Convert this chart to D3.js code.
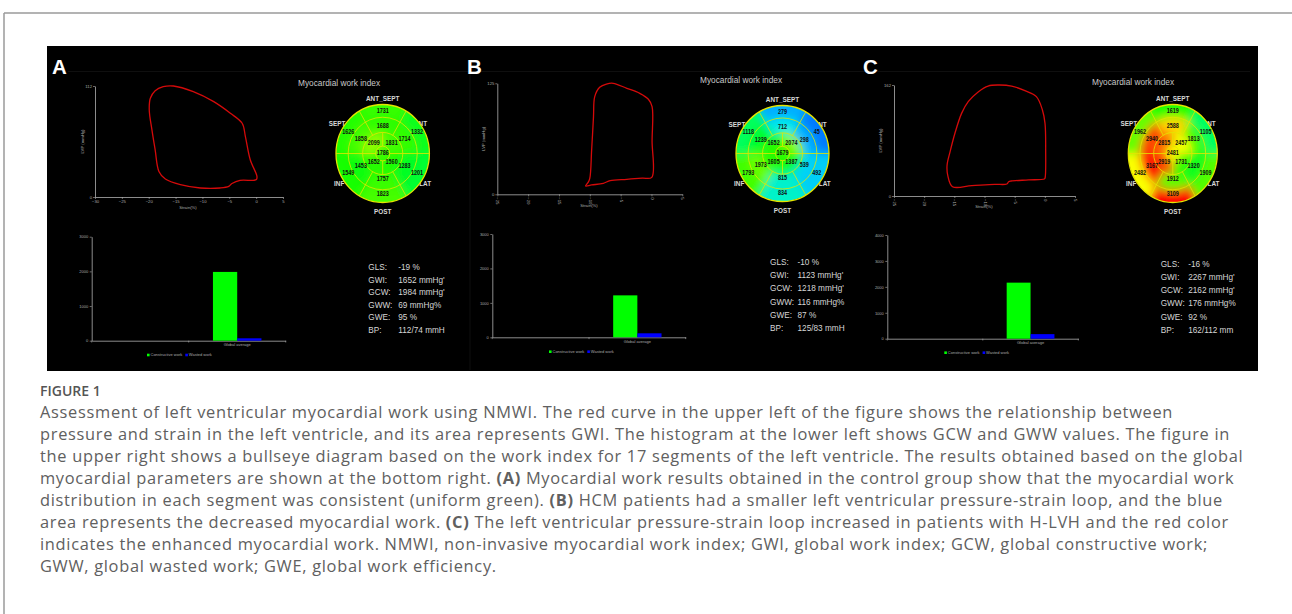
<!DOCTYPE html>
<html><head><meta charset="utf-8">
<script src="https://cdn.jsdelivr.net/npm/d3@7"></script>
<style>body{margin:0;background:#fff;} svg{display:block}</style>
</head><body>
<svg id="c" width="1292" height="614"></svg>
<script>
// ---------------- DATA ----------------
const panelLetters = ["A", "B", "C"];
// pressure-strain loops: [strain %, LVP mmHg]
const loopA = [[0.15,20.8],[-1.1,37.6],[-2.0,61],[-2.6,74.4],[-4.8,84.5],[-7.9,96.2],[-11.7,106.3],[-15.4,112],[-17.3,111.3],[-18.8,107.3],[-19.7,99.6],[-19.9,87.8],[-19.4,67.7],[-18.8,47.6],[-18.1,25.8],[-16.9,18.1],[-14.1,12.4],[-10.4,9.1],[-6.7,9.1],[-5.1,10.7],[-4.5,13.6],[-3.0,16.8],[-0.5,16.8],[0.05,17.6]];
const loopB = [[0.05,19.1],[0.1,60],[0.1,98.7],[-0.5,107],[-1.9,113.7],[-4.0,119.4],[-6.2,125],[-7.3,124.2],[-8.4,120.5],[-9.2,110],[-9.4,87.5],[-9.7,50],[-10.0,18],[-10.3,13.1],[-10.7,9.4],[-9.7,10.5],[-7.8,12.4],[-6.7,15.4],[-4.0,16.9],[-1.5,18.2]];
const loopC = [[0.03,25.8],[0.14,67.1],[0.03,106],[-0.4,125.5],[-1.4,145],[-3.3,153.7],[-5.5,160.5],[-7.7,162],[-9.4,160.5],[-11.0,152.3],[-12.7,137.7],[-13.8,120.6],[-14.9,91.5],[-15.7,64.7],[-16.2,45.2],[-16.1,30.6],[-15.3,13.6],[-12.1,15.1],[-8.3,17],[-6.3,17.5],[-6.0,20.9],[-5.6,21.9],[-2.7,23.4],[-0.08,24.8]];
const strainDomains = [[-30, 5], [-25, 5], [-25, 5]];
const pressureMax = [112, 125, 162];

// histogram
const barCategories = ["", "Global average"];
const barSeries = ["Constructive work", "Wasted work"];
const gcwValues = [1984, 1218, 2162];
const gwwValues = [69, 116, 176];
const barMax = [3000, 3000, 4000];

// global parameters
const globalLabels = ["GLS:", "GWI:", "GCW:", "GWW:", "GWE:", "BP:"];
const globalA = ["-19 %", "1652 mmHg'", "1984 mmHg'", "69 mmHg%", "95 %", "112/74 mmH"];
const globalB = ["-10 %", "1123 mmHg'", "1218 mmHg'", "116 mmHg%", "87 %", "125/83 mmH"];
const globalC = ["-16 %", "2267 mmHg'", "2162 mmHg'", "176 mmHg%", "92 %", "162/112 mm"];

// bullseye (work index per segment)
const segmentNames = ["ANT_SEPT", "ANT", "LAT", "POST", "INF", "SEPT"];
const basalA = [1731, 1332, 1201, 1823, 1549, 1626];
const midA   = [1688, 1714, 1283, 1757, 1453, 1858];
const apicalA = [1831, 1560, 1652, 2099]; // upper-right, lower-right, lower-left, upper-left
const apexA = [1786];
const basalB = [279, 45, 492, 834, 1793, 1118];
const midB   = [712, 298, 539, 815, 1973, 1239];
const apicalB = [2074, 1387, 1605, 1652];
const apexB = [1679];
const basalC = [1619, 1105, 1909, 3109, 2482, 1962];
const midC   = [2588, 1813, 1320, 1912, 3167, 2940];
const apicalC = [2457, 1731, 2919, 2815];
const apexC = [2481];

const captionTitle = "FIGURE 1";
const captionLines = [
"Assessment of left ventricular myocardial work using NMWI. The red curve in the upper left of the figure shows the relationship between",
"pressure and strain in the left ventricle, and its area represents GWI. The histogram at the lower left shows GCW and GWW values. The figure in",
"the upper right shows a bullseye diagram based on the work index for 17 segments of the left ventricle. The results obtained based on the global",
"myocardial parameters are shown at the bottom right. (A) Myocardial work results obtained in the control group show that the myocardial work",
"distribution in each segment was consistent (uniform green). (B) HCM patients had a smaller left ventricular pressure-strain loop, and the blue",
"area represents the decreased myocardial work. (C) The left ventricular pressure-strain loop increased in patients with H-LVH and the red color",
"indicates the enhanced myocardial work. NMWI, non-invasive myocardial work index; GWI, global work index; GCW, global constructive work;",
"GWW, global wasted work; GWE, global work efficiency."
];

// ---------------- LAYOUT ----------------
const layout = [
 {letter:[52,74], loop:[95,283,197,86], tickRot:false, ylab:84, xlab:[188,209],
  bar:[91.7,285.7,340.7,236.7], legend:[147,355], text:[368.3,270,12.5,30],
  eye:[382.7,153.5,46.7,49], title:[298,86]},
 {letter:[467,74], loop:[497.3,682.3,194.3,83.3], tickRot:true, ylab:485, xlab:[589,207],
  bar:[492.3,685.7,337.3,234], legend:[549,351.7], text:[770,265,13.2,27.5],
  eye:[782.5,153.5,46.5,48], title:[700,83]},
 {letter:[863,74], loop:[894,1075,196,85], tickRot:true, ylab:881.7, xlab:[984,208],
  bar:[887.3,1078.3,338.7,235], legend:[944.3,352.7], text:[1160.7,267.3,13.06,27.5],
  eye:[1172.8,153.5,44.5,49], title:[1092,85]}
];
const loops = [loopA, loopB, loopC];
const globals = [globalA, globalB, globalC];
const eyes = [
  {basal:basalA, mid:midA, apical:apicalA, apex:apexA},
  {basal:basalB, mid:midB, apical:apicalB, apex:apexB},
  {basal:basalC, mid:midC, apical:apicalC, apex:apexC}
];

const svg = d3.select("#c");
const defs = svg.append("defs");

// frame
svg.append("line").attr("x1",4).attr("x2",1292).attr("y1",13).attr("y2",13).attr("stroke","#9a9a9a").attr("stroke-width",1.5);
svg.append("line").attr("x1",4).attr("x2",4).attr("y1",13).attr("y2",614).attr("stroke","#9a9a9a").attr("stroke-width",1.5);
svg.append("rect").attr("x",47).attr("y",46).attr("width",1211).attr("height",325).attr("fill","#000");
// faint screenshot seams
svg.append("line").attr("x1",68).attr("x2",1250).attr("y1",71.5).attr("y2",71.5).attr("stroke","#0f0f0f");
svg.append("line").attr("x1",470).attr("x2",470).attr("y1",72).attr("y2",370).attr("stroke","#0f0f0f");

const color = d3.scaleLinear()
  .domain([0, 300, 700, 1000, 1200, 1500, 1900, 2200, 2500, 2800, 3100])
  .range(["#0070ff", "#00b4ff", "#00eaf0", "#00ff98", "#00ff30", "#10ff00", "#50ff00", "#b8ff00", "#ffff00", "#ff7000", "#ff0000"])
  .clamp(true);

const FONT = "'Liberation Sans', Arial, sans-serif";

layout.forEach((L, p) => {
  // panel letter
  svg.append("text").attr("x",L.letter[0]).attr("y",L.letter[1]).text(panelLetters[p])
    .attr("font-family",FONT).attr("font-weight","bold").attr("font-size",20.5).attr("fill","#fff");

  // ---------- loop ----------
  const [lx0,lx1,ly0,ly1] = L.loop;
  const x = d3.scaleLinear().domain(strainDomains[p]).range([lx0,lx1]);
  const y = d3.scaleLinear().domain([0, pressureMax[p]]).range([ly0,ly1]);
  const gl = svg.append("g");
  const xa = gl.append("g").attr("transform",`translate(0,${ly0})`)
    .call(d3.axisBottom(x).tickValues(d3.range(strainDomains[p][0], strainDomains[p][1]+1, 5)).tickSize(2).tickPadding(1.5).tickSizeOuter(0));
  const ya = gl.append("g").attr("transform",`translate(${lx0},0)`)
    .call(d3.axisLeft(y).tickValues([0, pressureMax[p]]).tickSize(2).tickPadding(1).tickSizeOuter(0));
  [xa, ya].forEach(a => {
    a.select(".domain").attr("stroke","#b0b0b0").attr("stroke-width",0.8);
    a.selectAll(".tick line").attr("stroke","#b0b0b0").attr("stroke-width",0.6);
    a.selectAll("text").attr("fill","#aaa").attr("font-size",4.2).attr("font-family",FONT);
  });
  if (L.tickRot) {
    xa.selectAll("text").attr("transform","rotate(90)").attr("text-anchor","start").attr("dy","0.32em").attr("x",3).attr("y",0);
  }
  gl.append("text").attr("transform",`translate(${L.ylab},${(ly0+ly1)/2}) rotate(-90)`).attr("text-anchor","middle")
    .attr("font-size",4.2).attr("fill","#aaa").attr("font-family",FONT).text("LVP (mmHg)");
  gl.append("text").attr("x",L.xlab[0]).attr("y",L.xlab[1]).attr("text-anchor","middle")
    .attr("font-size",4.2).attr("fill","#aaa").attr("font-family",FONT).text("Strain(%)");
  gl.append("path").datum(loops[p])
    .attr("d", d3.line().x(d=>x(d[0])).y(d=>y(d[1])).curve(d3.curveCatmullRomClosed.alpha(0.5)))
    .attr("fill","none").attr("stroke","#d40a0a").attr("stroke-width",1.3);

  // ---------- histogram ----------
  const [bx0,bx1,by0,by1] = L.bar;
  const xb = d3.scaleBand().domain(barCategories).range([bx0,bx1]).paddingInner(0).paddingOuter(0);
  const xs = d3.scaleBand().domain(barSeries).range([0, xb.bandwidth()]).paddingInner(0).paddingOuter(1);
  const yb = d3.scaleLinear().domain([0, barMax[p]]).range([by0,by1]);
  const gb = svg.append("g");
  const yba = gb.append("g").attr("transform",`translate(${bx0},0)`)
    .call(d3.axisLeft(yb).ticks(barMax[p]/1000).tickSize(2).tickPadding(1.5).tickSizeOuter(0).tickFormat(d3.format("d")));
  const xba = gb.append("g").attr("transform",`translate(0,${by0})`)
    .call(d3.axisBottom(xb).tickSize(0).tickPadding(2.5).tickSizeOuter(0));
  xba.selectAll(".tick line").remove();
  gb.selectAll("line.bt").data([bx0, xb("Global average"), bx1]).join("line")
    .attr("x1",d=>d).attr("x2",d=>d).attr("y1",by0).attr("y2",by0+1.8).attr("stroke","#b0b0b0").attr("stroke-width",0.6);
  [yba, xba].forEach(a => {
    a.select(".domain").attr("stroke","#b0b0b0").attr("stroke-width",0.8);
    a.selectAll(".tick line").attr("stroke","#b0b0b0").attr("stroke-width",0.6);
    a.selectAll("text").attr("fill","#aaa").attr("font-size",4).attr("font-family",FONT);
  });
  const barVals = [gcwValues[p], gwwValues[p]];
  const barCols = ["#00ff00", "#0000ff"];
  gb.selectAll("rect.bar").data(barSeries).join("rect")
    .attr("x", s => xb("Global average") + xs(s))
    .attr("width", xs.bandwidth())
    .attr("y", (s,i) => yb(barVals[i]))
    .attr("height", (s,i) => by0 - yb(barVals[i]))
    .attr("fill", (s,i) => barCols[i]);
  let lxp = L.legend[0];
  barSeries.forEach((s,i) => {
    gb.append("rect").attr("x",lxp).attr("y",L.legend[1]-1.3).attr("width",2.6).attr("height",2.6).attr("fill",barCols[i]);
    const t = gb.append("text").attr("x",lxp+3.5).attr("y",L.legend[1]+1.4).text(s)
      .attr("font-size",4).attr("fill","#aaa").attr("font-family",FONT);
    lxp += 3.5 + t.node().getComputedTextLength() + 3;
  });

  // ---------- global parameters ----------
  const [tx,ty,tdy,tcol] = L.text;
  const sx = 0.84;
  globalLabels.forEach((lab,i) => {
    const g = svg.append("g").attr("transform",`translate(${tx},${ty + i*tdy}) scale(${sx},1)`);
    const t1 = g.append("text").text(lab).attr("font-family",FONT).attr("font-size",9.8).attr("fill","#d6d6d6");
    const w = t1.node().getComputedTextLength();
    const vx = Math.max(tcol/sx, w + 1.5/sx);
    g.append("text").attr("x",vx).text(globals[p][i]).attr("font-family",FONT).attr("font-size",9.8).attr("fill","#d6d6d6");
  });

  // ---------- bullseye ----------
  const [cx,cy,rx,ry] = L.eye;
  svg.append("text").attr("x",L.title[0]).attr("y",L.title[1]).text("Myocardial work index")
    .attr("font-family",FONT).attr("font-size",8.3).attr("fill","#c8c8c8");
  const lab = svg.append("g").attr("font-family",FONT).attr("font-weight","bold").attr("font-size",6.4).attr("fill","#d8d8d8");
  const namePos = [
    [cx, cy-ry-5.5, "middle"], [cx+0.67*rx, cy-0.6*ry, "start"], [cx+0.78*rx, cy+0.62*ry, "start"],
    [cx, cy+ry+9.5, "middle"], [cx-0.82*rx, cy+0.62*ry, "end"], [cx-0.8*rx, cy-0.6*ry, "end"]
  ];
  segmentNames.forEach((n,i) => {
    lab.append("text").attr("x",namePos[i][0]).attr("y",namePos[i][1]+2.3).attr("text-anchor",namePos[i][2]).text(n);
  });

  const E = eyes[p];
  const R = rx;
  const rr = [0.15, 0.43, 0.74, 1.0].map(f => f*R);
  const deg = Math.PI/180;
  const clipId = "clip"+p, blurId = "blur"+p;
  defs.append("clipPath").attr("id",clipId).append("circle").attr("r",R);
  const f = defs.append("filter").attr("id",blurId).attr("x","-50%").attr("y","-50%").attr("width","200%").attr("height","200%");
  f.append("feGaussianBlur").attr("stdDeviation",4.5);
  const ge = svg.append("g").attr("transform",`translate(${cx},${cy}) scale(1,${ry/rx})`);
  const clipG = ge.append("g").attr("clip-path",`url(#${clipId})`);
  const blurG = clipG.append("g").attr("filter",`url(#${blurId})`);
  const arc = d3.arc();
  const segs = [];
  E.basal.forEach((v,i) => segs.push({v, ir:rr[2], or:R*1.5, a0:(i*60-30)*deg, a1:(i*60+30)*deg}));
  E.mid.forEach((v,i) => segs.push({v, ir:rr[1], or:rr[2], a0:(i*60-30)*deg, a1:(i*60+30)*deg}));
  E.apical.forEach((v,i) => segs.push({v, ir:rr[0], or:rr[1], a0:(i*90)*deg, a1:(i*90+90)*deg}));
  E.apex.forEach(v => segs.push({v, ir:0, or:rr[0], a0:0, a1:2*Math.PI}));
  blurG.selectAll("path").data(segs).join("path")
    .attr("d", d => arc({innerRadius:d.ir, outerRadius:d.or, startAngle:d.a0, endAngle:d.a1}))
    .attr("fill", d => color(d.v)).attr("stroke", d => color(d.v)).attr("stroke-width",0.5);
  // grid lines
  const grid = ge.append("g").attr("fill","none").attr("stroke","#e4e400").attr("stroke-width",0.8);
  rr.forEach((r,i) => grid.append("circle").attr("r",r).attr("vector-effect","non-scaling-stroke")
    .attr("stroke-width", i === 3 ? 1.3 : 0.8));
  [30,90,150,210,270,330].forEach(a => grid.append("line")
    .attr("x1",rr[1]*Math.sin(a*deg)).attr("y1",-rr[1]*Math.cos(a*deg))
    .attr("x2",R*Math.sin(a*deg)).attr("y2",-R*Math.cos(a*deg)).attr("vector-effect","non-scaling-stroke"));
  [0,90,180,270].forEach(a => grid.append("line")
    .attr("x1",rr[0]*Math.sin(a*deg)).attr("y1",-rr[0]*Math.cos(a*deg))
    .attr("x2",rr[1]*Math.sin(a*deg)).attr("y2",-rr[1]*Math.cos(a*deg)).attr("vector-effect","non-scaling-stroke"));
  // values (narrow bold digits)
  const vals = svg.append("g").attr("font-family",FONT).attr("font-weight","bold").attr("font-size",6.8)
    .attr("fill","#111").attr("text-anchor","middle");
  const place = (v, r, a) => {
    vals.append("g")
      .attr("transform",`translate(${cx + r*Math.sin(a*deg)},${cy - r*(ry/rx)*Math.cos(a*deg) + 1}) scale(0.8,1)`)
      .append("text").text(v);
  };
  E.basal.forEach((v,i) => place(v, 0.85*R, i*60));
  E.mid.forEach((v,i) => place(v, 0.54*R, i*60));
  E.apical.forEach((v,i) => place(v, 0.27*R, 45 + i*90));
  E.apex.forEach(v => place(v, 0, 0));
});

// ---------------- CAPTION ----------------
const cap = svg.append("g").attr("font-family","'Open Sans', sans-serif").attr("fill","#606060");
cap.append("text").attr("x",40).attr("y",396).attr("font-size",14).attr("font-weight",600).attr("fill","#555").text(captionTitle);
captionLines.forEach((line,i) => {
  const t = cap.append("text").attr("x",40).attr("y",417.5 + i*22).attr("font-size",16.4).attr("letter-spacing",0.7);
  line.split(/(\([ABC]\))/).forEach(part => {
    if (!part) return;
    t.append("tspan").text(part).attr("font-weight", /^\([ABC]\)$/.test(part) ? 700 : 400);
  });
});
</script>
</body></html>
